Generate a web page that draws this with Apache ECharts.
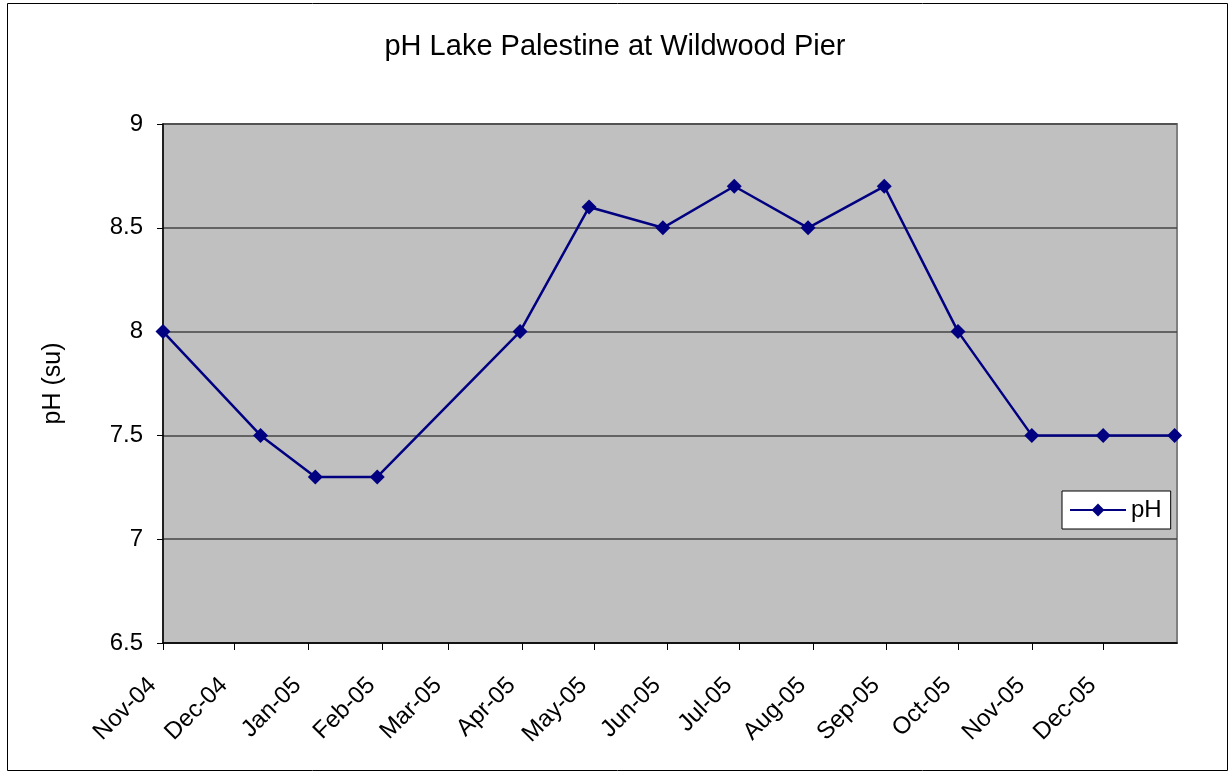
<!DOCTYPE html>
<html>
<head>
<meta charset="utf-8">
<script src="https://cdn.jsdelivr.net/npm/echarts@6/dist/echarts.min.js"></script>
<style>
  html, body { margin: 0; padding: 0; background: #fff; }
  #main { width: 1230px; height: 780px; }
</style>
</head>
<body>
<div id="main"></div>
<script>
// sample dates and pH readings
let sampleDates = ['2004-11-01', '2004-12-12', '2005-01-04', '2005-01-30', '2005-03-31', '2005-04-29', '2005-05-30',
    '2005-06-29', '2005-07-30', '2005-08-31', '2005-10-01', '2005-11-01', '2005-12-01', '2005-12-31'];
let phValues = [8.0, 7.5, 7.3, 7.3, 8.0, 8.6, 8.5, 8.7, 8.5, 8.7, 8.0, 7.5, 7.5, 7.5];

// month ticks on the x axis
let monthTicks = ['2004-11-01', '2004-12-01', '2005-01-01', '2005-02-01', '2005-03-01', '2005-04-01', '2005-05-01',
    '2005-06-01', '2005-07-01', '2005-08-01', '2005-09-01', '2005-10-01', '2005-11-01', '2005-12-01'];
let monthLabels = ['Nov-04', 'Dec-04', 'Jan-05', 'Feb-05', 'Mar-05', 'Apr-05', 'May-05',
    'Jun-05', 'Jul-05', 'Aug-05', 'Sep-05', 'Oct-05', 'Nov-05', 'Dec-05'];
let axisStart = '2004-11-01';
let axisEnd = '2006-01-01';

// days since axis start, so the x axis can be a plain value axis
function toDay(s) {
    let p = s.split('-').map(Number);
    let a = axisStart.split('-').map(Number);
    return Math.round((Date.UTC(p[0], p[1] - 1, p[2]) - Date.UTC(a[0], a[1] - 1, a[2])) / 86400000);
}

let tickDays = monthTicks.map(toDay);

let myChart = echarts.init(document.getElementById('main'));
let option = {
    backgroundColor: '#ffffff',
    animation: false,
    textStyle: { fontFamily: 'Liberation Sans, Arial, sans-serif', color: '#000' },
    title: {
        text: 'pH Lake Palestine at Wildwood Pier',
        left: 'center',
        top: 27,
        textStyle: { fontSize: 29, fontWeight: 'normal', color: '#000', fontFamily: 'Liberation Sans, Arial, sans-serif' }
    },
    graphic: [{
        type: 'rect',
        shape: { x: 7.5, y: 3.5, width: 1220, height: 767 },
        style: { fill: 'none', stroke: '#000', lineWidth: 1 },
        silent: true,
        z: -10
    }],
    legend: {
        data: ['pH'],
        left: 1062,
        top: 491,
        orient: 'vertical',
        backgroundColor: '#ffffff',
        borderColor: '#000',
        borderWidth: 1,
        padding: [7, 9, 7, 7],
        itemWidth: 56,
        itemHeight: 16,
        itemGap: 0,
        textStyle: { fontSize: 24, color: '#000' }
    },
    grid: {
        left: 163,
        top: 124,
        right: 53,
        bottom: 137,
        show: true,
        backgroundColor: '#C0C0C0',
        borderColor: '#808080',
        borderWidth: 2
    },
    xAxis: {
        type: 'value',
        min: toDay(axisStart),
        max: toDay(axisEnd),
        splitLine: { show: false },
        axisLine: { show: true, lineStyle: { color: '#000', width: 1.5 } },
        axisTick: { show: true, inside: false, length: 7, customValues: tickDays, lineStyle: { color: '#000' } },
        axisLabel: {
            show: true,
            customValues: tickDays,
            rotate: 45,
            margin: 28,
            padding: [0, 15, 0, 0],
            fontSize: 24,
            color: '#000',
            hideOverlap: false,
            showMinLabel: true,
            formatter: function (v) {
                let i = tickDays.indexOf(v);
                return i >= 0 ? monthLabels[i] : '';
            }
        }
    },
    yAxis: {
        type: 'value',
        min: 6.5,
        max: 9,
        interval: 0.5,
        name: 'pH (su)',
        nameLocation: 'middle',
        nameGap: 97,
        nameTextStyle: { fontSize: 25, color: '#000' },
        axisLine: { show: true, lineStyle: { color: '#000', width: 1.5 } },
        axisTick: { show: true, inside: false, length: 6, lineStyle: { color: '#000' } },
        axisLabel: { fontSize: 24, color: '#000', margin: 20 },
        splitLine: { show: true, lineStyle: { color: '#444', width: 1.5, type: 'solid' } }
    },
    series: [{
        name: 'pH',
        type: 'line',
        color: '#000080',
        data: sampleDates.map(function (d, i) { return [toDay(d), phValues[i]]; }),
        symbol: 'diamond',
        symbolSize: 15,
        showAllSymbol: true,
        lineStyle: { width: 2.5, color: '#000080' },
        itemStyle: { color: '#000080' },
        clip: false
    }]
};
myChart.setOption(option);
</script>
</body>
</html>
